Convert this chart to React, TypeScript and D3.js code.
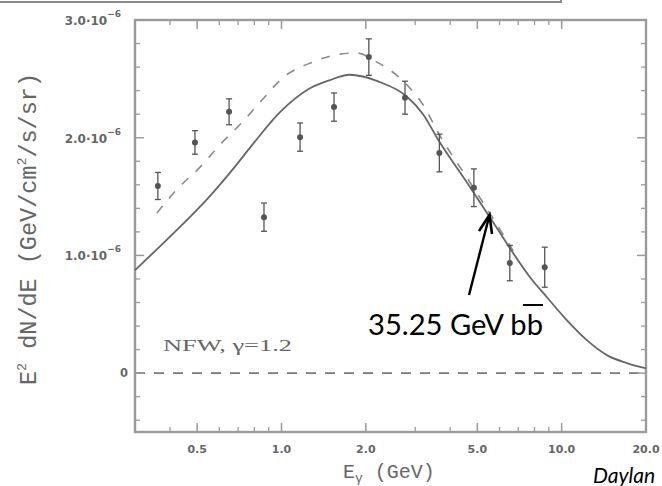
import React from 'react';
import * as d3 from 'd3';

const W = 662;
const H = 486;

const xTickValues = [0.5, 1, 2, 5, 10, 20];
const xTickLabels = ['0.5', '1.0', '2.0', '5.0', '10.0', '20.0'];
const yTickValues = [0, 1, 2, 3];
const yTickLabels = ['0', '1.0', '2.0', '3.0'];

// Data points (E in GeV, flux in 1e-6 GeV/cm2/s/sr)
const dataE = [0.362, 0.491, 0.65, 0.866, 1.165, 1.54, 2.05, 2.76, 3.66, 4.86, 6.53, 8.7];
const dataFlux = [1.59, 1.96, 2.22, 1.325, 2.005, 2.26, 2.685, 2.34, 1.87, 1.575, 0.935, 0.9];
const dataErr = [0.115, 0.1, 0.11, 0.12, 0.12, 0.12, 0.155, 0.14, 0.16, 0.16, 0.15, 0.17];

// Solid model curve (35.25 GeV bb)
const modelE = [0.3, 0.4, 0.547, 0.68, 0.785, 0.988, 1.264, 1.49, 1.75, 1.95, 2.2, 2.8, 3.2, 3.63, 4.71, 5.88, 6.71, 7.71, 8.86, 10.43, 12.3, 14.5, 17.1, 20];
const modelFlux = [0.875, 1.16, 1.487, 1.75, 1.937, 2.217, 2.42, 2.49, 2.535, 2.52, 2.48, 2.35, 2.2, 1.98, 1.58, 1.23, 1.02, 0.815, 0.645, 0.45, 0.28, 0.153, 0.085, 0.04];

// Dashed model curve
const altE = [0.359, 0.427, 0.512, 0.603, 0.723, 0.852, 1.012, 1.284, 1.617, 1.85, 2.2, 2.58, 2.8, 3.2, 3.63, 4.71, 5.88, 6.71];
const altFlux = [1.36, 1.57, 1.75, 1.94, 2.13, 2.32, 2.51, 2.64, 2.71, 2.72, 2.64, 2.53, 2.45, 2.28, 2.04, 1.62, 1.26, 1.04];

export default function App() {
  const left = 135, right = 646, top = 20, bottom = 432;
  const x = d3.scaleLog().domain([0.3, 20]).range([left, right]);
  const y = d3.scaleLinear().domain([-0.5, 3]).range([bottom, top]);

  const line = d3
    .line<[number, number]>()
    .x((d) => x(d[0]))
    .y((d) => y(d[1]))
    .curve(d3.curveMonotoneX);

  const modelPts = modelE.map((e, i) => [e, modelFlux[i]] as [number, number]);
  const altPts = altE.map((e, i) => [e, altFlux[i]] as [number, number]);

  const xMinor = x.ticks().filter((t) => !xTickValues.some((m) => Math.abs(m - t) < 1e-9));
  const yMinor = d3.range(-4, 31, 2).map((v) => v / 10).filter((v) => Math.abs(v - Math.round(v)) > 1e-6);

  const axisColor = '#9a9a9a';
  const inkColor = '#555';
  const labelColor = '#666';

  return (
    <svg
      width={W}
      height={H}
      style={{ position: 'absolute', left: 0, top: 0, background: '#fff' }}
      xmlns="http://www.w3.org/2000/svg"
    >
      <rect x={0} y={0} width={W} height={H} fill="#fff" />
      {/* top text box edge */}
      <path d="M0,2 H561 V-2" fill="none" stroke="#8a8a8a" strokeWidth={2} />

      {/* zero dashed line */}
      <line x1={left} x2={right} y1={y(0)} y2={y(0)} stroke="#7a7a7a" strokeWidth={1.6} strokeDasharray="10,9" />

      {/* frame */}
      <rect x={left} y={top} width={right - left} height={bottom - top} fill="none" stroke={axisColor} strokeWidth={2.4} />

      {/* x ticks */}
      {xTickValues.map((t) => (
        <g key={'xM' + t}>
          <line x1={x(t)} x2={x(t)} y1={bottom} y2={bottom - 9} stroke={axisColor} strokeWidth={1.5} />
          <line x1={x(t)} x2={x(t)} y1={top} y2={top + 9} stroke={axisColor} strokeWidth={1.5} />
        </g>
      ))}
      {xMinor.map((t) => (
        <g key={'xm' + t}>
          <line x1={x(t)} x2={x(t)} y1={bottom} y2={bottom - 5} stroke={axisColor} strokeWidth={1.3} />
          <line x1={x(t)} x2={x(t)} y1={top} y2={top + 5} stroke={axisColor} strokeWidth={1.3} />
        </g>
      ))}
      {/* y ticks */}
      {yTickValues.map((t) => (
        <g key={'yM' + t}>
          <line x1={left} x2={left + 9} y1={y(t)} y2={y(t)} stroke={axisColor} strokeWidth={1.5} />
          <line x1={right} x2={right - 9} y1={y(t)} y2={y(t)} stroke={axisColor} strokeWidth={1.5} />
        </g>
      ))}
      {yMinor.map((t) => (
        <g key={'ym' + t}>
          <line x1={left} x2={left + 5} y1={y(t)} y2={y(t)} stroke={axisColor} strokeWidth={1.3} />
          <line x1={right} x2={right - 5} y1={y(t)} y2={y(t)} stroke={axisColor} strokeWidth={1.3} />
        </g>
      ))}

      {/* x tick labels */}
      {xTickValues.map((t, i) => (
        <text
          key={'xl' + t}
          x={x(t)}
          y={453}
          textAnchor="middle"
          fontFamily="DejaVu Sans"
          fontWeight="bold"
          fontSize={11}
          fill={labelColor}
        >
          {xTickLabels[i]}
        </text>
      ))}
      {/* y tick labels */}
      {yTickValues.map((t, i) =>
        t === 0 ? (
          <text key={'yl' + t} x={128} y={y(t) + 4} textAnchor="end" fontFamily="DejaVu Sans" fontWeight="bold" fontSize={11.5} fill={labelColor}>
            {yTickLabels[i]}
          </text>
        ) : (
          <text key={'yl' + t} x={121} y={y(t) + 5} textAnchor="end" fontFamily="DejaVu Sans" fontWeight="bold" fontSize={12} fill={labelColor}>
            {yTickLabels[i] + '\u00B710'}
            <tspan fontSize={9} dy={-8}>{'\u2212' + '6'}</tspan>
          </text>
        )
      )}

      {/* axis titles */}
      <text
        transform={`translate(36, 229) rotate(-90)`}
        textAnchor="middle"
        fontFamily="Liberation Mono"
        fontSize={23}
        fill={labelColor}
        textLength={312}
        lengthAdjust="spacingAndGlyphs"
      >
        E<tspan fontSize={13} dy={-10}>2</tspan>
        <tspan dy={10}> dN/dE (GeV/cm</tspan>
        <tspan fontSize={13} dy={-10}>2</tspan>
        <tspan dy={10}>/s/sr)</tspan>
      </text>
      <text x={343} y={478} fontFamily="Liberation Mono" fontSize={20} fill={labelColor}>
        E<tspan fontSize={13} dy={4}>γ</tspan>
        <tspan dy={-4}> (GeV)</tspan>
      </text>

      {/* NFW label */}
      <text x={163} y={351} fontFamily="Liberation Serif" fontSize={17} fill={labelColor} textLength={129} lengthAdjust="spacingAndGlyphs">
        NFW,  γ=1.2
      </text>

      {/* dashed model */}
      <path d={line(altPts) || ''} fill="none" stroke="#8a8a8a" strokeWidth={1.6} strokeDasharray="9,10" />
      {/* solid model */}
      <path d={line(modelPts) || ''} fill="none" stroke="#666" strokeWidth={1.8} />

      {/* data points */}
      {dataE.map((e, i) => {
        const cx = x(e);
        const y0 = y(dataFlux[i] - dataErr[i]);
        const y1 = y(dataFlux[i] + dataErr[i]);
        return (
          <g key={'pt' + i}>
            <line x1={cx} x2={cx} y1={y0} y2={y1} stroke={inkColor} strokeWidth={1.3} />
            <line x1={cx - 3} x2={cx + 3} y1={y0} y2={y0} stroke={inkColor} strokeWidth={1.3} />
            <line x1={cx - 3} x2={cx + 3} y1={y1} y2={y1} stroke={inkColor} strokeWidth={1.3} />
            <circle cx={cx} cy={y(dataFlux[i])} r={3} fill={inkColor} />
          </g>
        );
      })}

      {/* annotation arrow */}
      <line x1={469} y1={295} x2={489} y2={217} stroke="#000" strokeWidth={2.4} />
      <path d="M479,231 L489.5,215 L492,234" fill="none" stroke="#000" strokeWidth={2.6} strokeLinejoin="miter" />

      {/* annotation text */}
      <text x={368} y={335} fontFamily="Lato" fontSize={28} fill="#000" textLength={175} lengthAdjust="spacingAndGlyphs">
        35.25 GeV bb
      </text>
      <line x1={523} x2={543} y1={305} y2={305} stroke="#000" strokeWidth={2} />

      <text x={593} y={483} fontFamily="Lato" fontStyle="italic" fontSize={21} fill="#000">
        Daylan
      </text>
    </svg>
  );
}
